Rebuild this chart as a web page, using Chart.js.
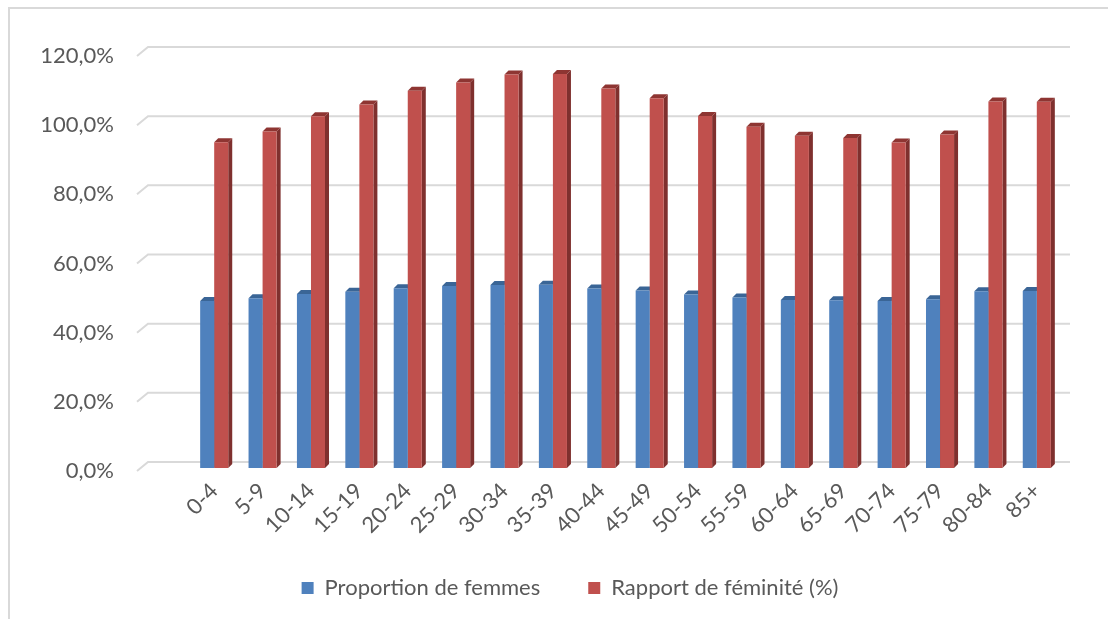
<!DOCTYPE html>
<html>
<head>
<meta charset="utf-8">
<script src="https://cdn.jsdelivr.net/npm/chart.js@4.4.1/dist/chart.umd.min.js"></script>
<style>
  html, body { margin: 0; padding: 0; background: #fff; overflow: hidden; }
  #wrap { position: relative; width: 1108px; height: 619px; }
  #frame { position: absolute; left: 8px; top: 7px; right: -4px; bottom: -4px; border: 2px solid #d9d9d9; }
  canvas { position: absolute; left: 0; top: 0; }
</style>
</head>
<body>
<div id="wrap">
  <div id="frame"></div>
  <canvas id="myChart" width="1108" height="619"></canvas>
</div>
<script>
const ageGroups = ["0-4", "5-9", "10-14", "15-19", "20-24", "25-29", "30-34", "35-39", "40-44",
    "45-49", "50-54", "55-59", "60-64", "65-69", "70-74", "75-79", "80-84", "85+"];
const proportionFemmes = [48.3, 49.1, 50.3, 51.0, 52.0, 52.6, 52.9, 53.0, 51.9,
    51.3, 50.2, 49.3, 48.6, 48.5, 48.3, 48.8, 51.1, 51.2];
const rapportFeminite = [94.2, 97.3, 101.7, 105.1, 109.1, 111.5, 113.8, 113.9, 109.7,
    106.9, 101.8, 98.7, 96.1, 95.4, 94.1, 96.4, 106.0, 105.9];
const yTicks = [0, 20, 40, 60, 80, 100, 120];

const textColor = "#595959";
const fontFamily = "Lato, 'Open Sans', sans-serif";
const fontSize = 22;

// fake 3D: back grid lines + top and side faces of each bar
const depth = { dx: 4, dy: 4 };
const threeD = {
    id: 'threeD',
    afterLayout(chart) {
        // let the rotated x labels run below the axis box
        chart.scales.x.bottom = chart.height;
    },
    beforeDatasetsDraw(chart) {
        const ctx = chart.ctx;
        const y = chart.scales.y;
        const area = chart.chartArea;
        ctx.save();
        ctx.strokeStyle = "#d9d9d9";
        ctx.lineWidth = 2;
        y.ticks.forEach(t => {
            const py = y.getPixelForValue(t.value);
            ctx.beginPath();
            ctx.moveTo(area.left - 53, py + 3);
            ctx.lineTo(area.left - 42, py - 6);
            ctx.lineTo(area.right + 9, py - 6);
            ctx.stroke();
        });
        const poly = pts => {
            ctx.beginPath();
            ctx.moveTo(pts[0][0], pts[0][1]);
            pts.slice(1).forEach(p => ctx.lineTo(p[0], p[1]));
            ctx.closePath();
            ctx.fill();
        };
        chart.data.datasets.forEach((ds, i) => {
            chart.getDatasetMeta(i).data.forEach(bar => {
                const l = bar.x - bar.width / 2, r = bar.x + bar.width / 2;
                const t = bar.y, b = bar.base;
                ctx.fillStyle = ds.sideColor;
                poly([[r, t], [r + depth.dx, t - depth.dy], [r + depth.dx, b - depth.dy], [r, b]]);
                ctx.fillStyle = ds.topColor;
                poly([[l, t], [l + depth.dx, t - depth.dy], [r + depth.dx, t - depth.dy], [r, t]]);
            });
        });
        ctx.restore();
    }
};

new Chart("myChart", {
    type: "bar",
    data: {
        labels: ageGroups,
        datasets: [{
            label: "Proportion de femmes",
            data: proportionFemmes,
            backgroundColor: "#4f81bd",
            topColor: "#3a6596",
            sideColor: "#395f8c",
        }, {
            label: "Rapport de féminité (%)",
            data: rapportFeminite,
            backgroundColor: "#c0504d",
            topColor: "#8e3532",
            sideColor: "#7f302e",
        }]
    },
    plugins: [threeD],
    options: {
        responsive: false,
        animation: false,
        layout: { padding: { top: 53, left: 32, right: 0, bottom: 10 } },
        datasets: { bar: { categoryPercentage: 0.58, barPercentage: 1.0 } },
        plugins: {
            legend: {
                position: "bottom",
                labels: {
                    boxWidth: 12, boxHeight: 12, padding: 48,
                    color: textColor,
                    font: { family: fontFamily, size: fontSize }
                }
            },
            tooltip: { enabled: false }
        },
        scales: {
            x: {
                grid: { display: false },
                border: { display: false },
                ticks: {
                    color: textColor,
                    font: { family: fontFamily, size: fontSize },
                    autoSkip: false, maxRotation: 45, minRotation: 45, padding: 2
                },
                afterFit(scale) { scale.height = 61; }
            },
            y: {
                min: 0, max: 120,
                grid: { display: false, drawTicks: false },
                border: { display: false },
                afterBuildTicks(scale) { scale.ticks = yTicks.map(v => ({ value: v })); },
                afterFit(scale) {
                    scale.width = 158;
                    scale.paddingTop = 0;
                    scale.paddingBottom = 0;
                },
                ticks: {
                    color: textColor,
                    font: { family: fontFamily, size: fontSize },
                    padding: 76, labelOffset: 3,
                    callback: v => v.toFixed(1).replace(".", ",") + "%"
                }
            },
            // empty right-hand box so the legend centres like the original
            y2: {
                position: "right",
                grid: { display: false },
                border: { display: false },
                ticks: { display: false },
                afterFit(scale) { scale.width = 47; }
            }
        }
    }
});
</script>
</body>
</html>
